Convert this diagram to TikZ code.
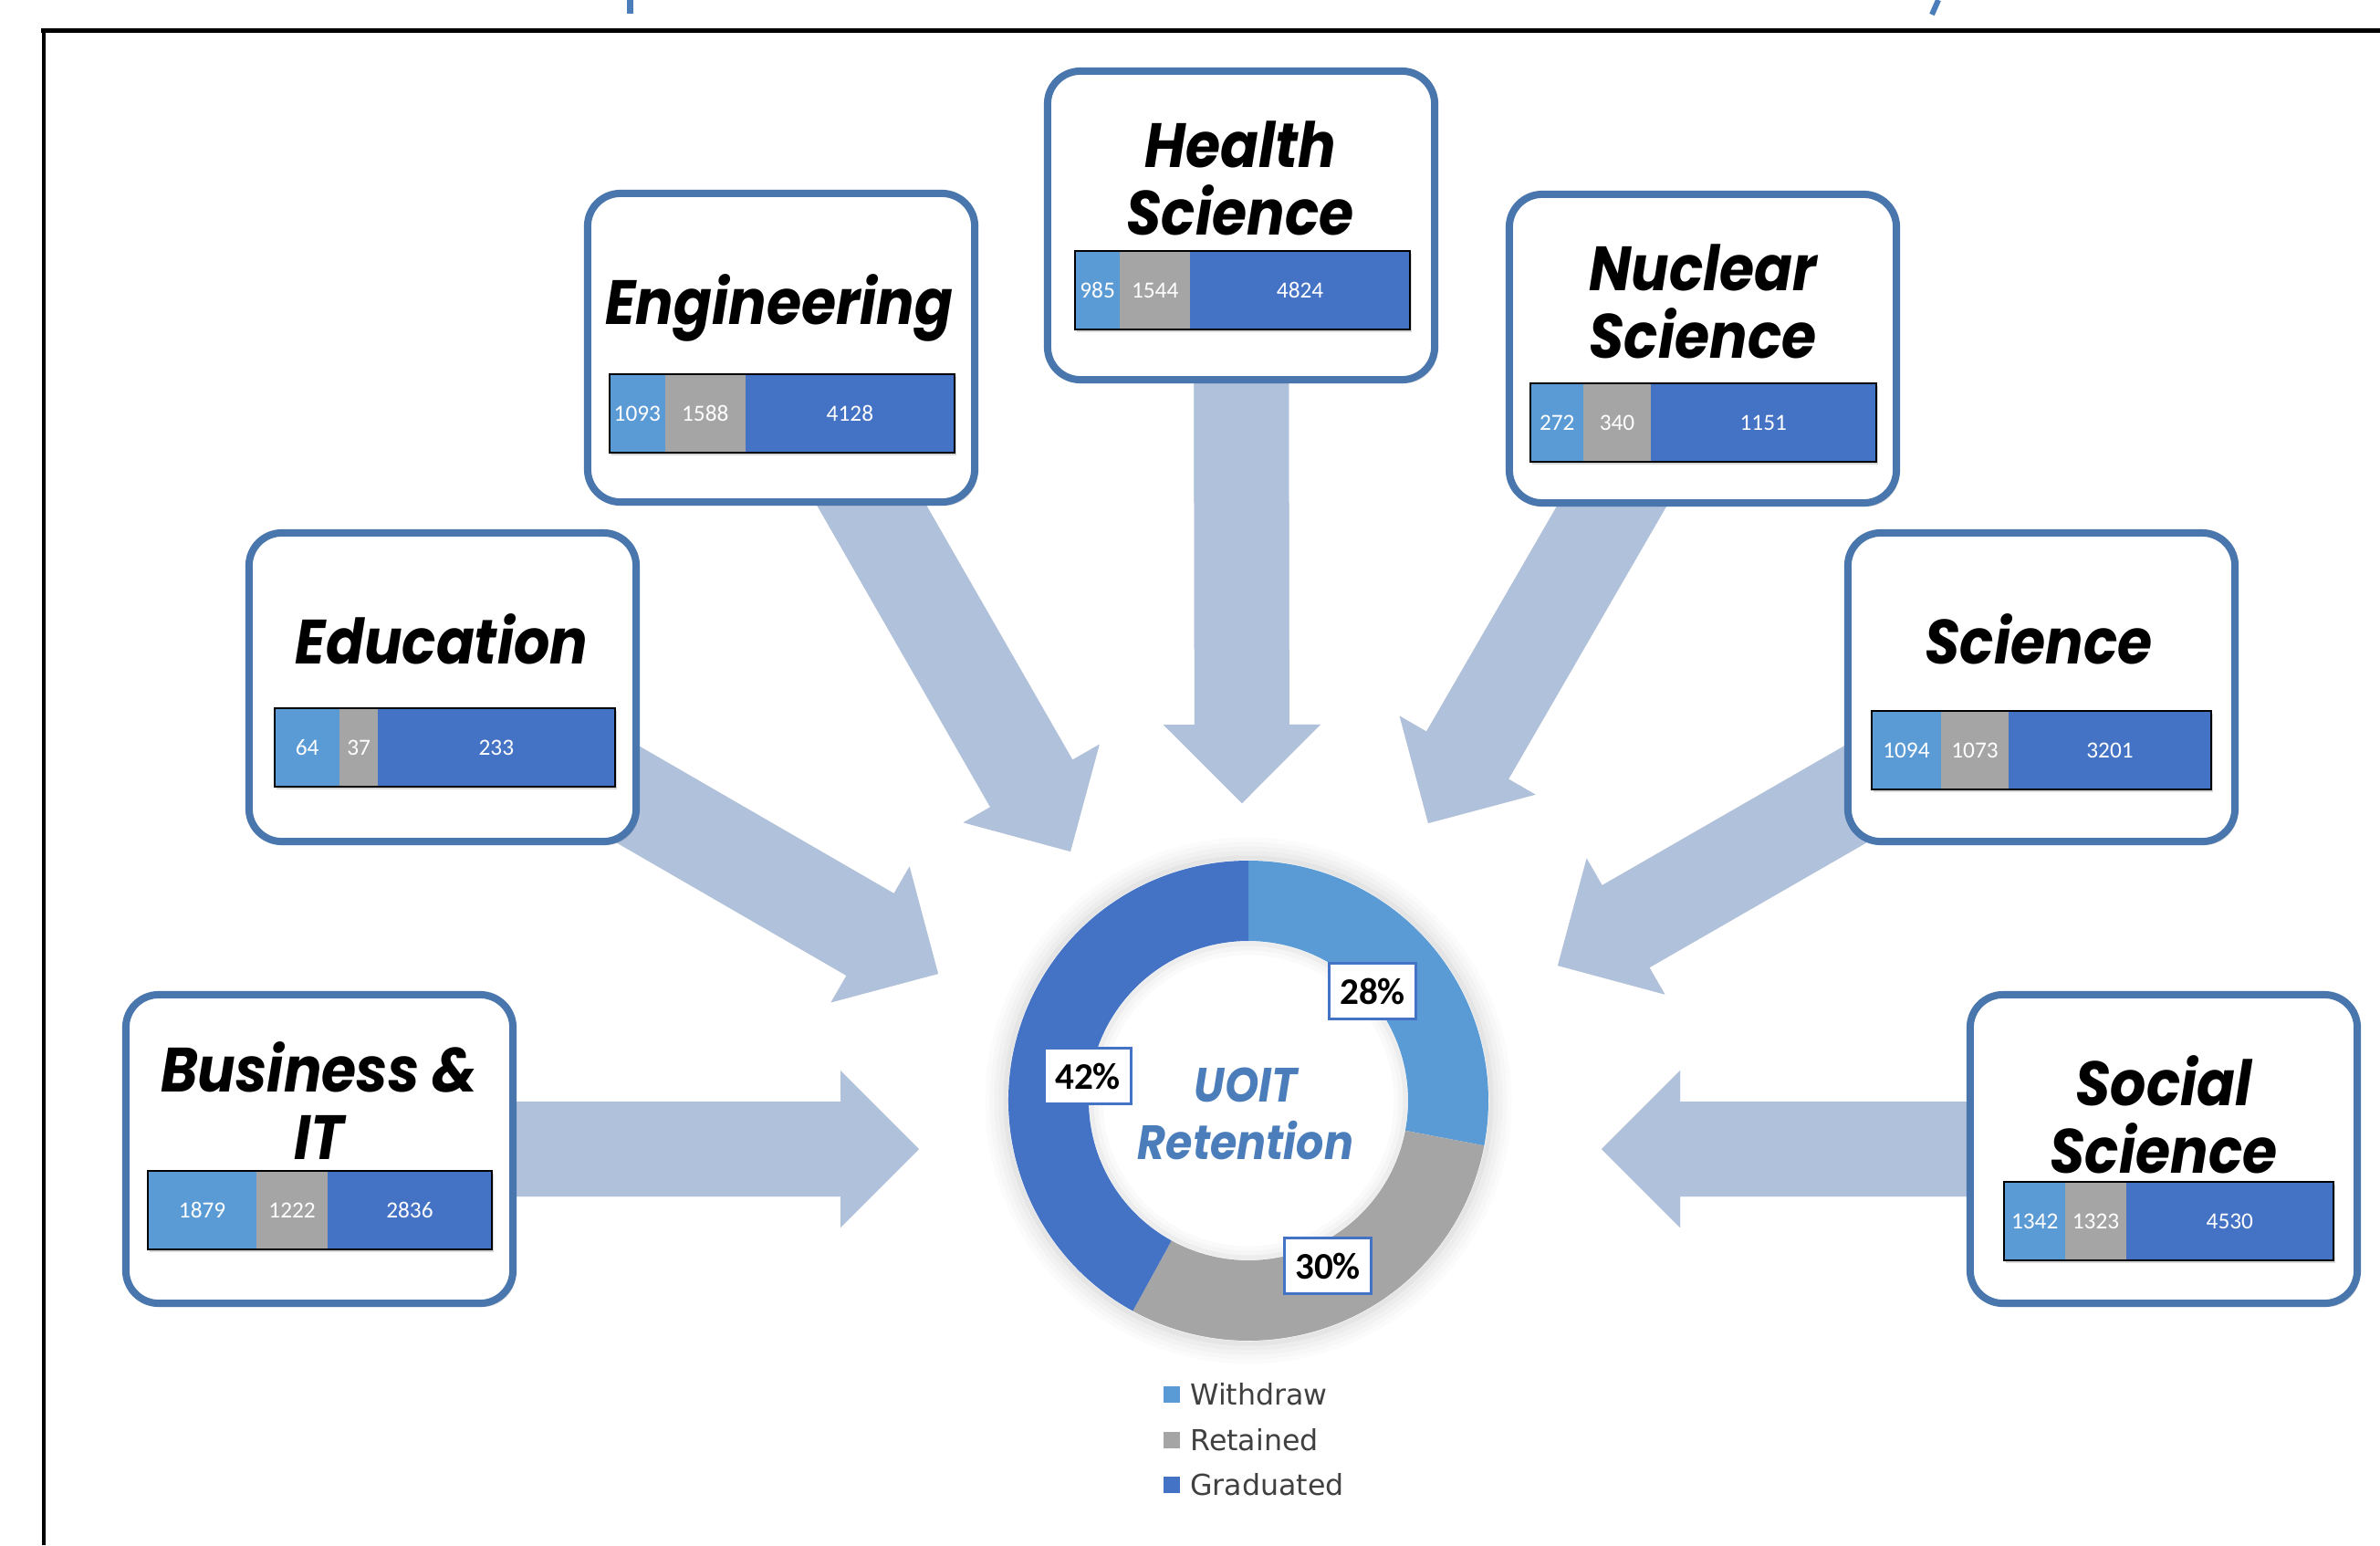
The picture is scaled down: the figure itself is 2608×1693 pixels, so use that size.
\documentclass[tikz,border=0pt]{standalone}
\usepackage{fontspec}
\setmainfont{Carlito}
\newfontfamily\headfont[FakeStretch=0.9]{Poppins}
\newfontfamily\legendfont{DejaVu Sans}
\usetikzlibrary{positioning, calc, shadows}
\definecolor{boxblue}{HTML}{4A76AE}
\definecolor{flowblue}{HTML}{B0C1DC}
\definecolor{withdrawn}{HTML}{5B9BD5}
\definecolor{retained}{HTML}{A5A5A5}
\definecolor{graduated}{HTML}{4472C4}
\definecolor{retblue}{HTML}{4A7DBA}
\pgfdeclarelayer{background}
\pgfsetlayers{background,main}

\tikzset{
  faculty/.style={draw=boxblue, line width=0.08cm, fill=white, rounded corners=0.36cm,
    minimum width=4.24cm, minimum height=3.38cm,
    drop shadow={shadow xshift=0.03cm, shadow yshift=-0.04cm, opacity=0.25}},
  factitle/.style={font=\headfont\bfseries\itshape\fontsize{19.5}{21}\selectfont,
    align=center, inner sep=0},
  barback/.style={inner sep=0, outer sep=0, minimum height=0.86cm, anchor=west,
    fill=white, drop shadow={shadow xshift=0.02cm, shadow yshift=-0.03cm, opacity=0.3}},
  barseg/.style={inner sep=0, outer sep=0, minimum height=0.86cm, anchor=west,
    text=white, font=\fontsize{7.2}{8}\selectfont},
  barframe/.style={draw=black, line width=0.6pt},
  flow/.style={fill=flowblue},
  pct/.style={draw=graduated, fill=white, line width=0.6pt, minimum width=0.95cm,
    minimum height=0.61cm, inner sep=0, font=\bfseries\fontsize{11.7}{13}\selectfont},
  legkey/.style={fill=#1, minimum size=0.18cm, inner sep=0},
  legtext/.style={font=\legendfont\fontsize{9}{10}\selectfont, text=black!75, inner sep=0}
}

% stacked bar: name, west end, length (px), withdrawn, retained, graduated
\newcommand\facbar[6]{%
  \pgfmathsetmacro\barunit{#3/(#4+#5+#6)}
  \node[barback, minimum width=#3*0.01cm] (#1) at (#2) {};
  \node[barseg, fill=withdrawn, minimum width=\barunit*#4*0.01cm] (#1-w) at (#1.west) {#4};
  \node[barseg, fill=retained, minimum width=\barunit*#5*0.01cm] (#1-r) at (#1-w.east) {#5};
  \node[barseg, fill=graduated, minimum width=\barunit*#6*0.01cm] (#1-g) at (#1-r.east) {#6};
  \draw[barframe] (#1-w.north west) rectangle (#1-g.south east);
}

% block arrow from a box centre to its tip
\newcommand\flowshape{(0,0) -- (-86,86) -- (-86,52) -- (-\flowlen,52) -- (-\flowlen,-52)
  -- (-86,-52) -- (-86,-86) -- cycle}
\newcommand\flowarrow[2]{%
  \path let \p1=($(#2)-(#1.center)$) in
    \pgfextra{\pgfmathsetmacro\flowang{atan2(\y1,\x1)}%
      \pgfmathsetmacro\flowlen{veclen(\x1,\y1)/0.284528}%
      \xdef\flowang{\flowang}\xdef\flowlen{\flowlen}};
  \fill[black, opacity=0.15, xshift=0.03cm, yshift=-0.03cm, shift={(#2)}, rotate=\flowang] \flowshape;
  \fill[flow, shift={(#2)}, rotate=\flowang] \flowshape;
}

\begin{document}
\begin{tikzpicture}[x=0.01cm, y=0.01cm]
  \useasboundingbox (0,0) rectangle (2608,-1693);
  \begin{pgfonlayer}{background}
    \fill[white] (0,0) rectangle (2608,-1693);
  \end{pgfonlayer}

  % frame and cut title strokes
  \draw[line width=0.05cm] (2608,-33.5) -- (45,-33.5);
  \draw[line width=0.04cm] (48,-31) -- (48,-1693);
  \draw[retblue, line width=0.07cm] (690,0) -- (690,-15);
  \draw[retblue, line width=0.06cm] (2124,0) -- (2117,-16);

  % faculty boxes
  \node[faculty] (bus) at (350,-1259) {};
  \node[faculty] (edu) at (485,-753) {};
  \node[faculty] (eng) at (856,-381) {};
  \node[faculty] (hea) at (1360,-247) {};
  \node[faculty] (nuc) at (1866,-382) {};
  \node[faculty] (sci) at (2237,-753) {};
  \node[faculty] (soc) at (2371,-1259) {};

  \node[factitle] (bus-t) at (350,-1206) {Business \&\\IT};
  \node[factitle, anchor=base] (edu-t) at (484,-727) {Education};
  \node[factitle, anchor=base] (eng-t) at (854,-355) {Engineering};
  \node[factitle] (hea-t) at (1359,-195) {Health\\Science};
  \node[factitle] (nuc-t) at (1866,-330) {Nuclear\\Science};
  \node[factitle, anchor=base] (sci-t) at (2234,-727) {Science};
  \node[factitle] (soc-t) at (2371,-1221) {Social\\Science};

  \facbar{bus-b}{162,-1326}{377}{1879}{1222}{2836}
  \facbar{edu-b}{301,-819}{373}{64}{37}{233}
  \facbar{eng-b}{668,-453}{378}{1093}{1588}{4128}
  \facbar{hea-b}{1178,-318}{367}{985}{1544}{4824}
  \facbar{nuc-b}{1677,-463}{379}{272}{340}{1151}
  \facbar{sci-b}{2051,-822}{372}{1094}{1073}{3201}
  \facbar{soc-b}{2196,-1338}{361}{1342}{1323}{4530}

  % doughnut
  \node[circle, minimum size=5.26cm, inner sep=0] (donut) at (1368,-1206) {};
  \foreach \r/\o in {266/0.10, 271/0.07, 276/0.05, 281/0.03, 286/0.015}
    \draw[black, opacity=\o, line width=0.05cm] (donut.center) circle[radius=\r];
  \foreach \r/\o in {172/0.07, 167/0.04, 162/0.02}
    \draw[black, opacity=\o, line width=0.05cm] (donut.center) circle[radius=\r];
  \begin{scope}[shift={(donut.center)}]
    \fill[withdrawn] (90:263) arc[start angle=90, end angle=-10.8, radius=263]
      -- (-10.8:175) arc[start angle=-10.8, end angle=90, radius=175] -- cycle;
    \fill[retained] (-10.8:263) arc[start angle=-10.8, end angle=-118.8, radius=263]
      -- (-118.8:175) arc[start angle=-118.8, end angle=-10.8, radius=175] -- cycle;
    \fill[graduated] (-118.8:263) arc[start angle=-118.8, end angle=-270, radius=263]
      -- (-270:175) arc[start angle=-270, end angle=-118.8, radius=175] -- cycle;
  \end{scope}
  \node[text=retblue, align=center, inner sep=0,
        font=\headfont\bfseries\itshape\fontsize{15}{17.9}\selectfont]
    (ret) at (1365,-1220) {UOIT\\Retention};
  \node[pct] (p28) at (1504,-1086) {28\%};
  \node[pct] (p42) at (1192,-1179) {42\%};
  \node[pct] (p30) at (1455,-1387) {30\%};

  % legend
  \node[legkey=withdrawn] (key-w) at (1284,-1528) {};
  \node[legkey=retained] (key-r) at (1284,-1578) {};
  \node[legkey=graduated] (key-g) at (1284,-1627) {};
  \node[legtext, right=0.1cm of key-w] {Withdraw};
  \node[legtext, right=0.1cm of key-r] {Retained};
  \node[legtext, right=0.1cm of key-g] {Graduated};

  % arrow tips round the doughnut
  \coordinate (bus-tip) at (1007,-1259);
  \coordinate (edu-tip) at (1028,-1067);
  \coordinate (eng-tip) at (1173,-933);
  \coordinate (hea-tip) at (1361,-880);
  \coordinate (nuc-tip) at (1565,-902);
  \coordinate (sci-tip) at (1707,-1058);
  \coordinate (soc-tip) at (1755,-1259);

  \begin{pgfonlayer}{background}
    \foreach \f in {bus, edu, eng, hea, nuc, sci, soc} {
      \flowarrow{\f}{\f-tip}
    }
  \end{pgfonlayer}
\end{tikzpicture}
\end{document}
